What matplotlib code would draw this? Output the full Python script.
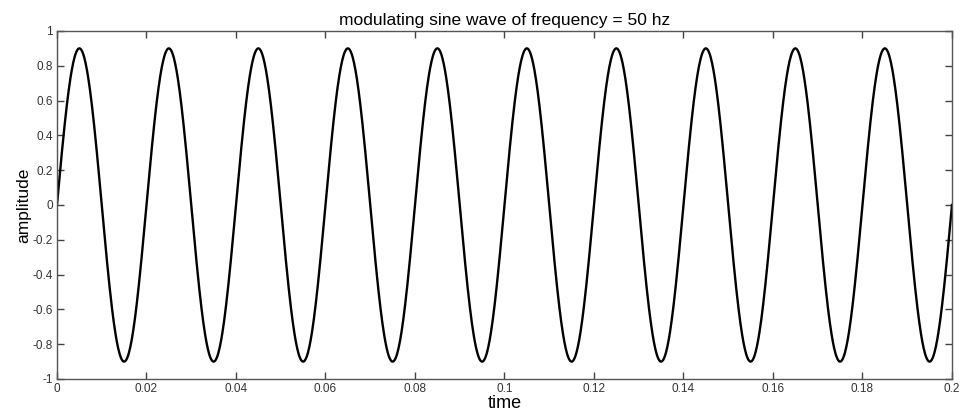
import numpy as np
import matplotlib
matplotlib.use('Agg')
import matplotlib.pyplot as plt

plt.rcParams['font.family'] = ['Liberation Sans', 'DejaVu Sans']

# signal parameters: frequency from the title, amplitude.
# note: the curve itself is computed from these (amp * sin(2*pi*freq*t)),
# not read point by point from the picture
freq = 50
amp = 0.9
t_end = 0.2
n_points = 2001

xticks = [0, 0.02, 0.04, 0.06, 0.08, 0.1, 0.12, 0.14, 0.16, 0.18, 0.2]
xticklabels = ['0', '0.02', '0.04', '0.06', '0.08', '0.1', '0.12', '0.14', '0.16', '0.18', '0.2']
yticks = [-1, -0.8, -0.6, -0.4, -0.2, 0, 0.2, 0.4, 0.6, 0.8, 1]
yticklabels = ['-1', '-0.8', '-0.6', '-0.4', '-0.2', '0', '0.2', '0.4', '0.6', '0.8', '1']

t = np.linspace(0, t_end, n_points)
y = amp * np.sin(2 * np.pi * freq * t)

fig = plt.figure(figsize=(9.61, 4.12), dpi=100)
ax = fig.add_axes([0.0593, 0.0801, 0.9313, 0.8447])
ax.plot(t, y, color='black', linewidth=1.7)

ax.set_xlim(0, t_end)
ax.set_ylim(-1, 1)
ax.set_xticks(xticks)
ax.set_xticklabels(xticklabels)
ax.set_yticks(yticks)
ax.set_yticklabels(yticklabels)
ax.tick_params(direction='in', length=5, width=1, colors='#444444',
               labelsize=8.5, top=True, right=True, labelcolor='#333333', pad=3)
for s in ax.spines.values():
    s.set_color('#555555')
    s.set_linewidth(1)

ax.set_title('modulating sine wave of frequency = 50 hz', fontsize=12.5, pad=4)
ax.set_xlabel('time', fontsize=13, labelpad=0)
ax.set_ylabel('amplitude', fontsize=12.5, labelpad=1)

fig.savefig('out.png', dpi=100)
